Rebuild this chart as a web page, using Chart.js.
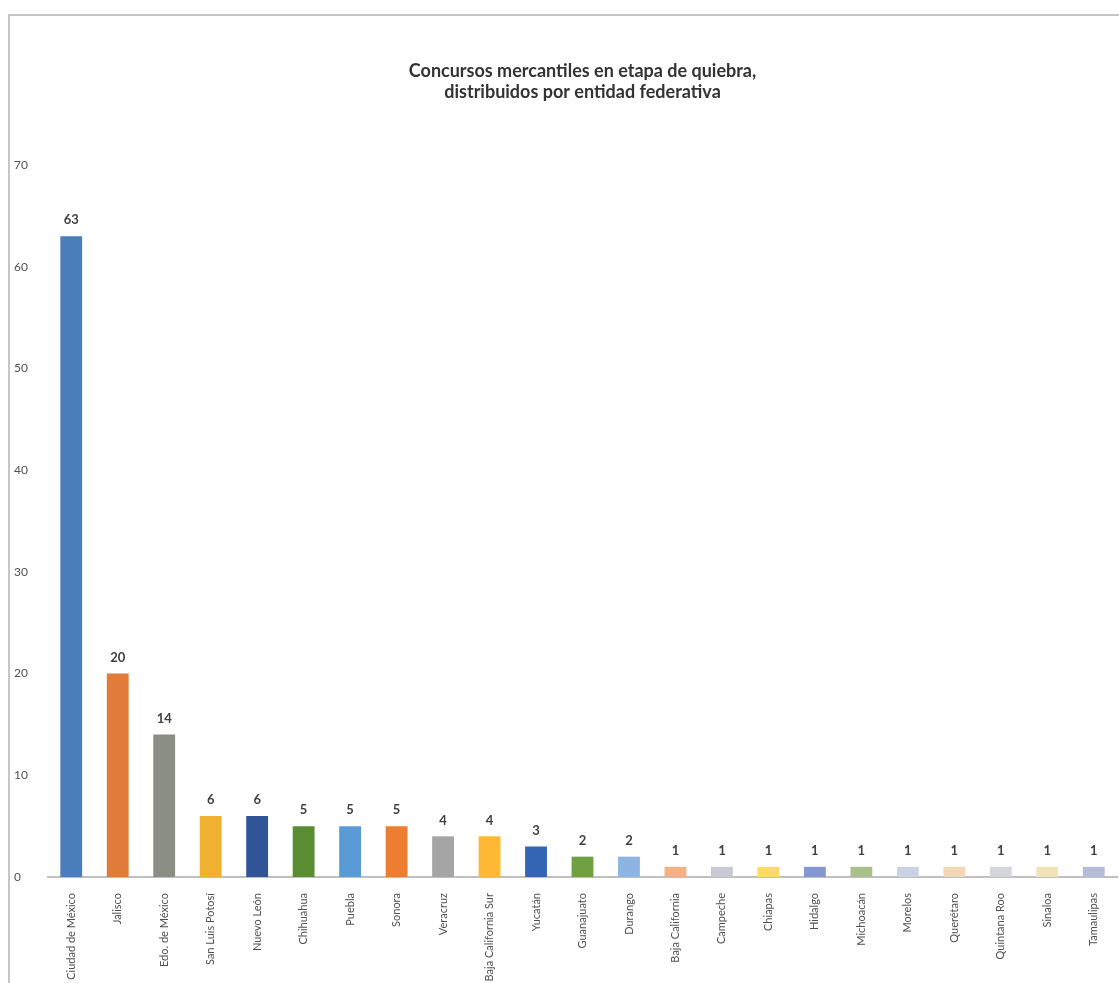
<!DOCTYPE html>
<html>
<head>
<meta charset="utf-8">
<script src="https://cdn.jsdelivr.net/npm/chart.js@4"></script>
<style>
  body { margin: 0; background: #fff; }
  #frame {
    position: absolute; left: 8px; top: 14px;
    width: 1109px; height: 967px;
    border-top: 2px solid #c6c6c6; border-left: 2px solid #c6c6c6;
    overflow: hidden;
  }
</style>
</head>
<body>
<div id="frame"><canvas id="quiebra-chart"></canvas></div>
<script>
// entidades federativas y número de concursos en quiebra
const estados = [
  "Ciudad de México", "Jalisco", "Edo. de México", "San Luis Potosí", "Nuevo León",
  "Chihuahua", "Puebla", "Sonora", "Veracruz", "Baja California Sur", "Yucatán",
  "Guanajuato", "Durango", "Baja California", "Campeche", "Chiapas", "Hidalgo",
  "Michoacán", "Morelos", "Querétaro", "Quintana Roo", "Sinaloa", "Tamaulipas"
];
const concursos = [63, 20, 14, 6, 6, 5, 5, 5, 4, 4, 3, 2, 2, 1, 1, 1, 1, 1, 1, 1, 1, 1, 1];
const colores = [
  "#4a7ebb", "#e07b39", "#8b8e85", "#f0b030", "#2f5597", "#5a8c32",
  "#5b9bd5", "#ed7d31", "#a5a5a5", "#ffb833", "#3465b5", "#6fa043",
  "#8eb4e3", "#f4b183", "#c9c9d6", "#ffd966", "#8497d0", "#a9c08a",
  "#c9d3e3", "#f4d7b8", "#d5d5dc", "#f2e2b8", "#b4bcd8"
];
const yTicks = [0, 10, 20, 30, 40, 50, 60, 70];

// etiquetas de valor encima de cada barra
const valueLabels = {
  id: "valueLabels",
  afterDatasetsDraw(chart) {
    const ctx = chart.ctx;
    const meta = chart.getDatasetMeta(0);
    ctx.save();
    ctx.font = "bold 13px Lato";
    ctx.fillStyle = "#404040";
    ctx.textAlign = "center";
    ctx.textBaseline = "middle";
    meta.data.forEach((bar, i) => {
      ctx.fillText(String(concursos[i]), bar.x, bar.y - 16);
    });
    ctx.restore();
  }
};

var ctx = document.getElementById("quiebra-chart").getContext("2d");
var quiebraChart = new Chart(ctx, {
  type: "bar",
  data: {
    labels: estados,
    datasets: [{
      data: concursos,
      backgroundColor: colores,
      borderWidth: 0,
      categoryPercentage: 1,
      barPercentage: 0.47
    }]
  },
  options: {
    responsive: true,
    maintainAspectRatio: false,
    animation: false,
    layout: { padding: { top: 45, left: 4, right: 2, bottom: 0 } },
    plugins: {
      legend: { display: false },
      tooltip: { enabled: false },
      title: {
        display: true,
        fullSize: false,
        text: ["Concursos mercantiles en etapa de quiebra,", "distribuidos por entidad federativa"],
        color: "#333333",
        font: { family: "Lato", size: 18, weight: "bold", lineHeight: 1.17 },
        padding: { top: 0, bottom: 62 }
      }
    },
    scales: {
      x: {
        grid: { display: false },
        border: { display: true, color: "#bfbfbf", width: 2 },
        ticks: {
          autoSkip: false,
          minRotation: 90,
          maxRotation: 90,
          padding: 8,
          color: "#505050",
          font: { family: "Lato", size: 11 }
        },
        afterFit: (scale) => { scale.height = 106; }
      },
      y: {
        min: 0,
        max: 70,
        grid: { display: false },
        border: { display: false },
        afterBuildTicks: (scale) => { scale.ticks = yTicks.map(v => ({ value: v })); },
        ticks: {
          crossAlign: "far",
          color: "#505050",
          font: { family: "Lato", size: 12 }
        },
        afterFit: (scale) => { scale.width = 34; }
      }
    }
  },
  plugins: [valueLabels]
});
</script>
</body>
</html>
